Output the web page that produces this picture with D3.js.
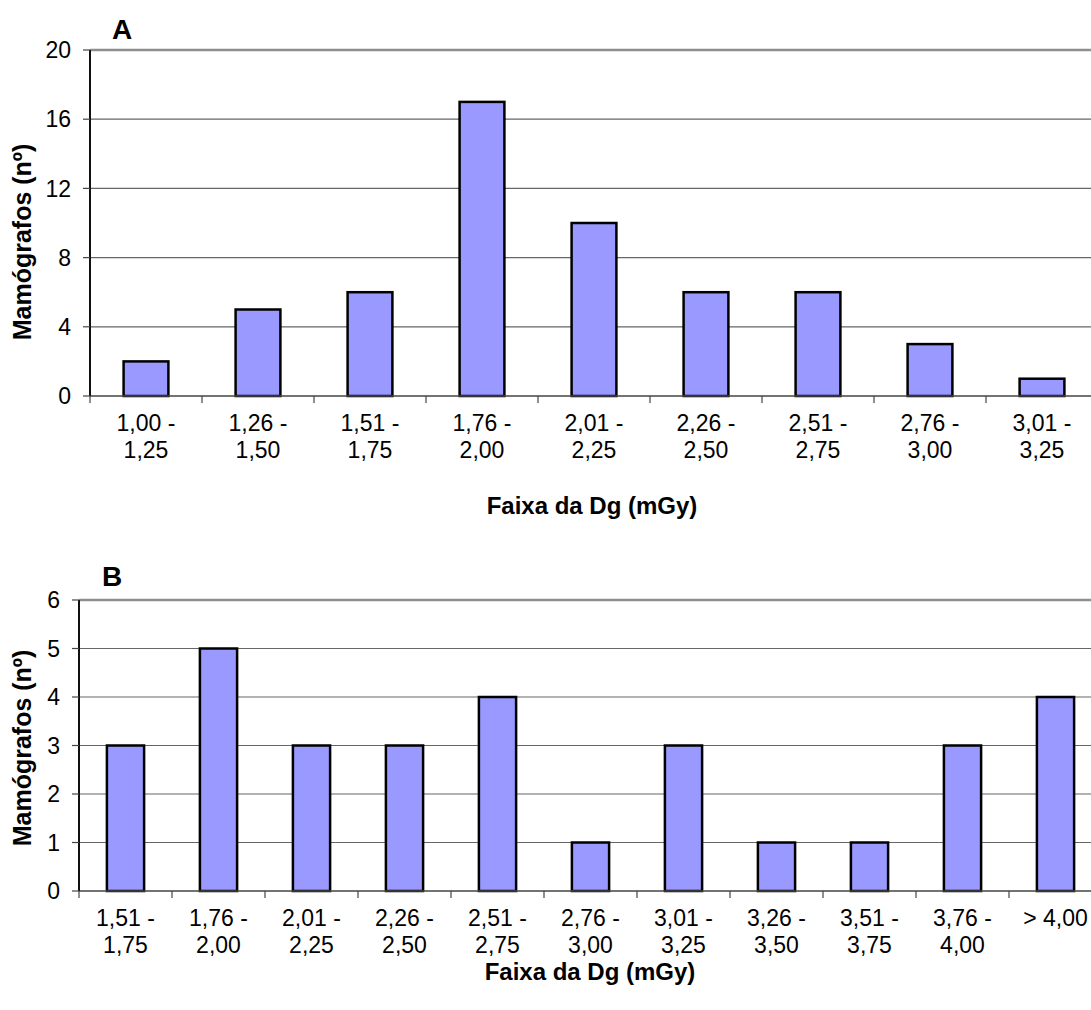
<!DOCTYPE html>
<html>
<head>
<meta charset="utf-8">
<script src="https://cdn.jsdelivr.net/npm/d3@7"></script>
<style>
  body { margin: 0; background: #fff; }
  svg { font-family: "Liberation Sans", Arial, sans-serif; }
</style>
</head>
<body>
<div id="chart"></div>
<script>
// chart A
const rangesA = ["1,00 - 1,25", "1,26 - 1,50", "1,51 - 1,75", "1,76 - 2,00", "2,01 - 2,25",
                 "2,26 - 2,50", "2,51 - 2,75", "2,76 - 3,00", "3,01 - 3,25"];
const countsA = [2, 5, 6, 17, 10, 6, 6, 3, 1];
const ticksA = [0, 4, 8, 12, 16, 20];

// chart B
const rangesB = ["1,51 - 1,75", "1,76 - 2,00", "2,01 - 2,25", "2,26 - 2,50", "2,51 - 2,75",
                 "2,76 - 3,00", "3,01 - 3,25", "3,26 - 3,50", "3,51 - 3,75", "3,76 - 4,00", "> 4,00"];
const countsB = [3, 5, 3, 3, 4, 1, 3, 1, 1, 3, 4];
const ticksB = [0, 1, 2, 3, 4, 5, 6];

const width = 1091;
const height = 1010;

const svg = d3.select("#chart")
  .append("svg")
  .attr("width", width)
  .attr("height", height);

function drawPanel(opt) {
  const g = svg.append("g");

  const x = d3.scaleBand()
    .domain(opt.cats)
    .range([opt.left, opt.left + opt.step * opt.cats.length]);

  const y = d3.scaleLinear()
    .domain([0, opt.max])
    .range([opt.bottom, opt.top]);

  // gridlines
  g.selectAll(".grid")
    .data(opt.ticks.filter(t => t > 0))
    .enter()
    .append("line")
    .attr("x1", opt.left)
    .attr("x2", x.range()[1])
    .attr("y1", d => y(d))
    .attr("y2", d => y(d))
    .attr("stroke", d => d === opt.max ? "#8e8e8e" : "#666")
    .attr("stroke-width", d => d === opt.max ? 2.5 : 1.2);

  // bars
  const bw = x.bandwidth() * 0.4;
  g.selectAll(".bar")
    .data(opt.values)
    .enter()
    .append("rect")
    .attr("x", (d, i) => x(opt.cats[i]) + (x.bandwidth() - bw) / 2)
    .attr("y", d => y(d))
    .attr("width", bw)
    .attr("height", d => opt.bottom - y(d))
    .attr("fill", "#9999ff")
    .attr("stroke", "#000")
    .attr("stroke-width", 2.5);

  // x axis
  g.append("line")
    .attr("x1", opt.left)
    .attr("x2", x.range()[1])
    .attr("y1", opt.bottom)
    .attr("y2", opt.bottom)
    .attr("stroke", "#444")
    .attr("stroke-width", 1.5);

  g.selectAll(".xtick")
    .data(d3.range(opt.cats.length + 1))
    .enter()
    .append("line")
    .attr("x1", i => opt.left + i * x.step())
    .attr("x2", i => opt.left + i * x.step())
    .attr("y1", opt.bottom)
    .attr("y2", opt.bottom + 7)
    .attr("stroke", "#444")
    .attr("stroke-width", 1.2);

  const lab = g.selectAll(".xlab")
    .data(opt.cats)
    .enter()
    .append("text")
    .attr("text-anchor", "middle")
    .attr("font-size", 23)
    .attr("fill", "#000");
  lab.each(function(d) {
    const cx = x(d) + x.bandwidth() / 2;
    const parts = d.startsWith(">") ? [d] : [d.split(" - ")[0] + " -", d.split(" - ")[1]];
    parts.forEach((p, k) => {
      d3.select(this).append("tspan")
        .attr("x", cx)
        .attr("y", opt.bottom + 35 + k * 27)
        .text(p);
    });
  });

  // y axis
  g.append("line")
    .attr("x1", opt.left)
    .attr("x2", opt.left)
    .attr("y1", opt.top)
    .attr("y2", opt.bottom)
    .attr("stroke", "#111")
    .attr("stroke-width", 2);

  g.selectAll(".ytick")
    .data(opt.ticks)
    .enter()
    .append("line")
    .attr("x1", opt.left - 7)
    .attr("x2", opt.left)
    .attr("y1", d => y(d))
    .attr("y2", d => y(d))
    .attr("stroke", "#444")
    .attr("stroke-width", 1.2);

  g.selectAll(".ylab")
    .data(opt.ticks)
    .enter()
    .append("text")
    .attr("x", opt.left - 19)
    .attr("y", d => y(d))
    .attr("dy", "0.36em")
    .attr("text-anchor", "end")
    .attr("font-size", 23)
    .text(d => d);

  // titles
  g.append("text")
    .attr("x", opt.letterX)
    .attr("y", opt.letterY)
    .attr("font-size", 28)
    .attr("font-weight", "bold")
    .text(opt.letter);

  g.append("text")
    .attr("x", opt.xTitleX)
    .attr("y", opt.xTitleY)
    .attr("text-anchor", "middle")
    .attr("font-size", 24)
    .attr("font-weight", "bold")
    .text("Faixa da Dg (mGy)");

  g.append("text")
    .attr("transform", "translate(" + 31 + "," + opt.yTitleY + ") rotate(-90)")
    .attr("text-anchor", "middle")
    .attr("font-size", 25)
    .attr("font-weight", "bold")
    .text("Mamógrafos (nº)");
}

drawPanel({
  cats: rangesA, values: countsA, ticks: ticksA, max: 20,
  left: 90, step: 112, top: 50, bottom: 396,
  letter: "A", letterX: 112, letterY: 39,
  xTitleX: 592, xTitleY: 514, yTitleY: 242
});

drawPanel({
  cats: rangesB, values: countsB, ticks: ticksB, max: 6,
  left: 79, step: 93, top: 600, bottom: 891,
  letter: "B", letterX: 102, letterY: 586,
  xTitleX: 590, xTitleY: 980, yTitleY: 748
});
</script>
</body>
</html>
